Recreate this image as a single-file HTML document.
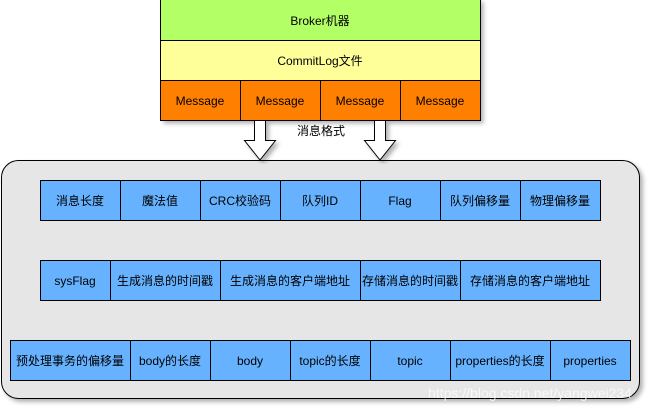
<!DOCTYPE html>
<html><head><meta charset="utf-8"><style>
html,body{margin:0;padding:0;background:#fff;width:652px;height:412px;overflow:hidden}
svg text{font-family:"Liberation Sans","Noto Sans CJK SC",sans-serif;font-size:12px;fill:#000;text-anchor:middle;dominant-baseline:central}
</style></head><body>
<svg width="652" height="412" viewBox="0 0 652 412" xmlns="http://www.w3.org/2000/svg">
<defs><filter id="sh" x="-5%" y="-5%" width="110%" height="115%"><feDropShadow dx="3" dy="3" stdDeviation="2" flood-color="#000" flood-opacity="0.3"/></filter></defs>
<!-- container -->
<rect x="1.5" y="160.5" width="638" height="238" rx="17" ry="17" fill="#e6e6e6" stroke="#000" stroke-width="1" filter="url(#sh)"/>
<!-- top stack -->
<g filter="url(#sh)">
<rect x="160.5" y="-1" width="320" height="121.5" fill="#fff"/>
</g>
<rect x="160.5" y="-1" width="320" height="41.5" fill="#b3ff66" stroke="#000"/>
<rect x="160.5" y="40.5" width="320" height="40" fill="#ffff99" stroke="#000"/>
<g fill="#ff8000" stroke="#000">
<rect x="160.5" y="80.5" width="80" height="40"/><rect x="240.5" y="80.5" width="80" height="40"/>
<rect x="320.5" y="80.5" width="80" height="40"/><rect x="400.5" y="80.5" width="80" height="40"/>
</g>
<text x="320" y="21">Broker机器</text>
<text x="320" y="61">CommitLog文件</text>
<text x="200" y="101">Message</text><text x="280" y="101">Message</text><text x="360" y="101">Message</text><text x="440" y="101">Message</text>
<!-- arrows -->
<g fill="#fff" stroke="#000" filter="url(#sh)">
<path d="M254.5 120.5 H265.5 V140.5 H275.5 L260 160 L244.5 140.5 H254.5 Z"/>
<path d="M374.5 120.5 H385.5 V140.5 H395.5 L380 160 L364.5 140.5 H374.5 Z"/>
</g>
<text x="321" y="131">消息格式</text>
<!-- row1 -->
<g fill="#66b2ff" stroke="#000">
<rect x="40.5" y="180.5" width="80" height="40"/><rect x="120.5" y="180.5" width="80" height="40"/>
<rect x="200.5" y="180.5" width="80" height="40"/><rect x="280.5" y="180.5" width="80" height="40"/>
<rect x="360.5" y="180.5" width="80" height="40"/><rect x="440.5" y="180.5" width="80" height="40"/>
<rect x="520.5" y="180.5" width="80" height="40"/>
<rect x="40.5" y="260.5" width="70" height="40"/><rect x="110.5" y="260.5" width="110" height="40"/>
<rect x="220.5" y="260.5" width="140" height="40"/><rect x="360.5" y="260.5" width="100" height="40"/>
<rect x="460.5" y="260.5" width="140" height="40"/>
<rect x="10.5" y="340.5" width="120" height="40"/><rect x="130.5" y="340.5" width="80" height="40"/>
<rect x="210.5" y="340.5" width="80" height="40"/><rect x="290.5" y="340.5" width="80" height="40"/>
<rect x="370.5" y="340.5" width="80" height="40"/><rect x="450.5" y="340.5" width="100" height="40"/>
<rect x="550.5" y="340.5" width="80" height="40"/>
</g>
<text x="80" y="201">消息长度</text><text x="160" y="201">魔法值</text><text x="240" y="201">CRC校验码</text>
<text x="320" y="201">队列ID</text><text x="400" y="201">Flag</text><text x="480" y="201">队列偏移量</text><text x="560" y="201">物理偏移量</text>
<text x="75" y="281">sysFlag</text><text x="165" y="281">生成消息的时间戳</text><text x="290" y="281">生成消息的客户端地址</text>
<text x="410" y="281">存储消息的时间戳</text><text x="530" y="281">存储消息的客户端地址</text>
<text x="70" y="361">预处理事务的偏移量</text><text x="170" y="361">body的长度</text><text x="250" y="361">body</text>
<text x="330" y="361">topic的长度</text><text x="410" y="361">topic</text><text x="500" y="361">properties的长度</text><text x="590" y="361">properties</text>
<text x="530" y="393" style="font-size:14px;fill:#fff;opacity:0.75">https://blog.csdn.net/yangwei234</text>
</svg>
</body></html>
